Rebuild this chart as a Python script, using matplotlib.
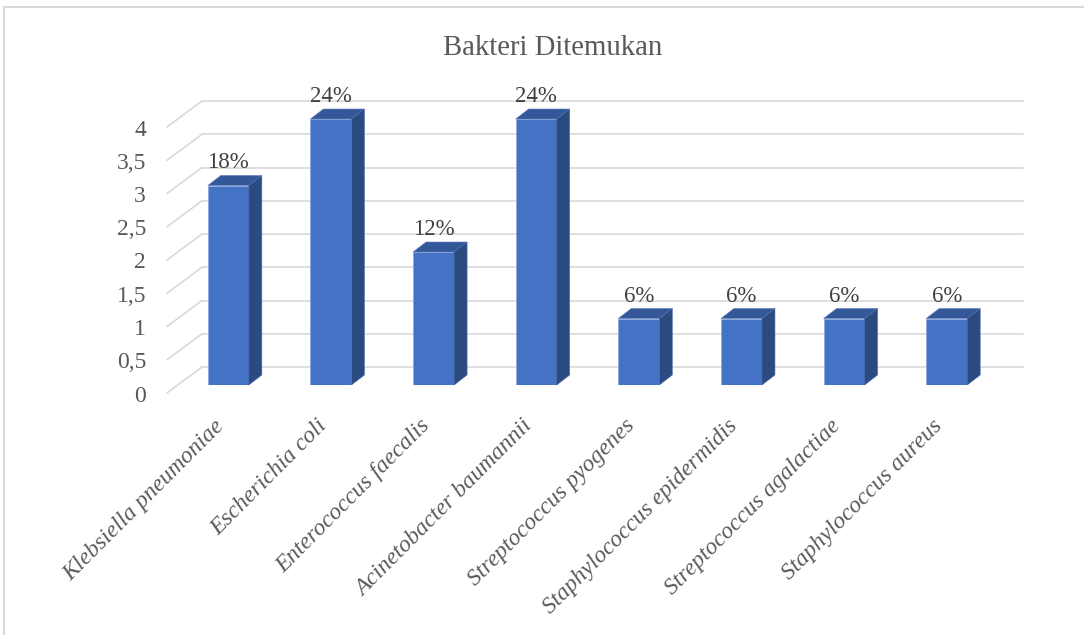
"""Pseudo-3D column chart of bacteria found (Excel style)."""

import matplotlib
matplotlib.use("Agg")
import matplotlib.pyplot as plt
import matplotlib.transforms as mtransforms
from matplotlib.patches import Polygon, Rectangle, ConnectionPatch

# Data
bacteria = [
    "Klebsiella pneumoniae",
    "Escherichia coli",
    "Enterococcus faecalis",
    "Acinetobacter baumannii",
    "Streptococcus pyogenes",
    "Staphylococcus epidermidis",
    "Streptococcus agalactiae",
    "Staphylococcus aureus",
]
counts = [3, 4, 2, 4, 1, 1, 1, 1]
percent_labels = ["18%", "24%", "12%", "24%", "6%", "6%", "6%", "6%"]
y_ticks = [0, 0.5, 1, 1.5, 2, 2.5, 3, 3.5, 4]
y_tick_labels = ["0", "0,5", "1", "1,5", "2", "2,5", "3", "3,5", "4"]

# Style
FONT = "Liberation Serif"
FRONT_COLOR = "#4472C4"
TOP_COLOR = "#34579A"
SIDE_COLOR = "#2B4A80"
GRID_COLOR = "#D9D9D9"
TEXT_COLOR = "#595959"
LABEL_COLOR = "#404040"

# pixel offsets of the walls relative to the bar front plane
FRONT = (-10, -8)
BACK = (25, 18)
BAR_DEPTH = (13, 10)

W, H = 1084, 635
fig = plt.figure(figsize=(W / 100, H / 100), dpi=100)
ax = fig.add_axes([177 / W, (H - 385) / H, 821 / W, 266 / H])
ax.set_xlim(-0.5, len(bacteria) - 0.5)
ax.set_ylim(0, 4)
ax.axis("off")


def shifted(dx, dy):
    """Data transform moved by (dx, dy) pixels."""
    return ax.transData + mtransforms.ScaledTranslation(
        dx / 100, dy / 100, fig.dpi_scale_trans)


# convert the bar depth in pixels to data units
p0 = ax.transData.transform((0, 0))
p1 = ax.transData.transform((1, 1))
ddx = BAR_DEPTH[0] / (p1[0] - p0[0])
ddy = BAR_DEPTH[1] / (p1[1] - p0[1])

x_lo, x_hi = ax.get_xlim()

# back wall gridlines and side wall diagonals
for v in y_ticks:
    ax.plot([x_lo, x_hi], [v, v], color=GRID_COLOR, lw=1.2,
            transform=shifted(*BACK), clip_on=False, zorder=0)
    con = ConnectionPatch(xyA=(x_lo, v), coordsA=shifted(*FRONT),
                          xyB=(x_lo, v), coordsB=shifted(*BACK),
                          color=GRID_COLOR, lw=1.2, zorder=0)
    ax.add_artist(con)

# y tick labels on the front edge
for v, lab in zip(y_ticks, y_tick_labels):
    ax.text(x_lo, v, lab, transform=shifted(FRONT[0] - 21, FRONT[1] - 3),
            ha="right", va="center", fontsize=17, family=FONT,
            color=TEXT_COLOR)

# bars
width = 0.4
for i, v in enumerate(counts):
    x0, x1 = i - width / 2, i + width / 2
    ax.bar(i, v, width=width, color=FRONT_COLOR, edgecolor="#8FAADC",
           lw=0.6, zorder=3)
    ax.add_patch(Polygon([(x0, v), (x1, v), (x1 + ddx, v + ddy),
                          (x0 + ddx, v + ddy)], closed=True,
                         facecolor=TOP_COLOR, edgecolor="#5B7FC0",
                         lw=0.4, zorder=3, clip_on=False))
    ax.add_patch(Polygon([(x1, 0), (x1, v), (x1 + ddx, v + ddy),
                          (x1 + ddx, ddy)], closed=True,
                         facecolor=SIDE_COLOR, edgecolor="#4E6FAE",
                         lw=0.4, zorder=3, clip_on=False))
    ax.text(i, v + ddy, percent_labels[i], transform=shifted(0, 7),
            ha="center", va="baseline", fontsize=16.5, family=FONT,
            color=LABEL_COLOR, zorder=4)

# category labels
for i, name in enumerate(bacteria):
    ax.text(i, 0, name, transform=shifted(-7, -38),
            rotation=45, rotation_mode="anchor", ha="right", va="center",
            fontsize=17, family=FONT, style="italic", color=TEXT_COLOR)

# title
fig.text(553 / W, 1 - 48 / H, "Bakteri Ditemukan", ha="center",
         va="center", fontsize=20.7, family=FONT, color=TEXT_COLOR)

# chart border (cropped on the right and bottom)
fig.patches.append(Rectangle((4 / W, -0.1), 2, 1 - 7 / H + 0.1,
                             transform=fig.transFigure, fill=False,
                             edgecolor=GRID_COLOR, lw=1.5))

fig.savefig("out.png", dpi=100)
